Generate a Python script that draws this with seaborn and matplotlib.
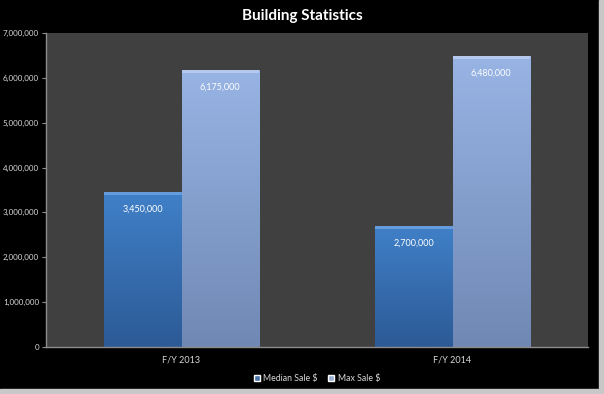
import numpy as np
import pandas as pd
import seaborn as sns
import matplotlib.pyplot as plt
from matplotlib.patches import Rectangle
from matplotlib.ticker import FuncFormatter

# Chart data
years = ["F/Y 2013", "F/Y 2014"]
series = ["Median Sale $", "Max Sale $"]
median_sale = [3450000, 2700000]
max_sale = [6175000, 6480000]

df = pd.DataFrame({
    "Year": years * 2,
    "Series": [series[0]] * 2 + [series[1]] * 2,
    "Value": median_sale + max_sale,
})

sns.set_style("dark")
plt.rcParams["font.family"] = ["Lato", "DejaVu Sans"]

colors = {"Median Sale $": "#3a70b5", "Max Sale $": "#8faadb"}
grad = {"Median Sale $": ("#4080c8", "#2c5a96"), "Max Sale $": ("#98b4e4", "#7088b4")}

fig = plt.figure(figsize=(6.04, 3.94), dpi=100, facecolor="black")
ax = fig.add_axes([46 / 604, 1 - 347 / 394, (588 - 46) / 604, (347 - 33) / 394])
ax.set_facecolor("#404040")

sns.barplot(data=df, x="Year", y="Value", hue="Series", palette=colors,
            width=0.57, gap=0, ax=ax, legend=True)

# vertical gradient fill on each bar
for container, name in zip(ax.containers, series):
    top, bottom = grad[name]
    cmap = plt.matplotlib.colors.LinearSegmentedColormap.from_list(name, [bottom, top])
    for bar in container:
        x0, y0 = bar.get_x(), bar.get_y()
        w, h = bar.get_width(), bar.get_height()
        img = ax.imshow(np.linspace(0, 1, 100).reshape(-1, 1), cmap=cmap, aspect="auto",
                        origin="lower", extent=[x0, x0 + w, y0, y0 + h], zorder=bar.get_zorder() + 0.1)
        img.set_clip_path(bar)
        bar.set_edgecolor("#30302f")
        bar.set_linewidth(0.6)
        ax.add_patch(Rectangle((x0, y0 + h - 60000), w, 60000, color="#7eb0ee" if name == series[0] else "#c8d8f4",
                               lw=0, zorder=bar.get_zorder() + 0.2, alpha=0.6))
        ax.text(x0 + w / 2, y0 + h - 280000, f"{int(h):,}", ha="center", va="top",
                color="white", fontsize=6.5, zorder=5)

ax.set_xlim(-0.5, 1.5)
ax.set_ylim(0, 7000000)
ax.set_yticks(range(0, 7000001, 1000000))
ax.yaxis.set_major_formatter(FuncFormatter(lambda v, p: f"{int(v):,}"))
ax.set_xticks([0, 1])
ax.set_xticks([0.5], minor=True)
ax.tick_params(axis="x", which="major", length=0, colors="#d8d8d8", labelsize=6.5, pad=6)
ax.tick_params(axis="x", which="minor", length=4, color="#909090", direction="out")
ax.tick_params(axis="y", length=3, color="#909090", colors="#d8d8d8", labelsize=5.8, pad=2, left=True)
ax.set_xlabel("")
ax.set_ylabel("")
ax.grid(False)
for s in ["top", "right"]:
    ax.spines[s].set_visible(False)
for s in ["left", "bottom"]:
    ax.spines[s].set_visible(True)
    ax.spines[s].set_color("#8c8c8c")
    ax.spines[s].set_linewidth(1)

leg = ax.legend(loc="center", bbox_to_anchor=(0.5, -0.1), ncol=2, frameon=False,
                fontsize=6.3, labelcolor="#d8d8d8", handlelength=0.7, handleheight=0.7,
                handletextpad=0.4, columnspacing=1.2)

fig.text(302 / 604, 1 - 16 / 394, "Building Statistics", ha="center", va="center",
         color="white", fontsize=11, fontweight="bold")

# light frame at right and bottom edges
fig.patches.append(Rectangle((599 / 604, 0), 5 / 604, 1, transform=fig.transFigure,
                             color="#c8c8c8", zorder=-1))
fig.patches.append(Rectangle((0, 0), 1, 5 / 394, transform=fig.transFigure,
                             color="#c8c8c8", zorder=-1))

fig.savefig("out.png", dpi=100, facecolor="black")
